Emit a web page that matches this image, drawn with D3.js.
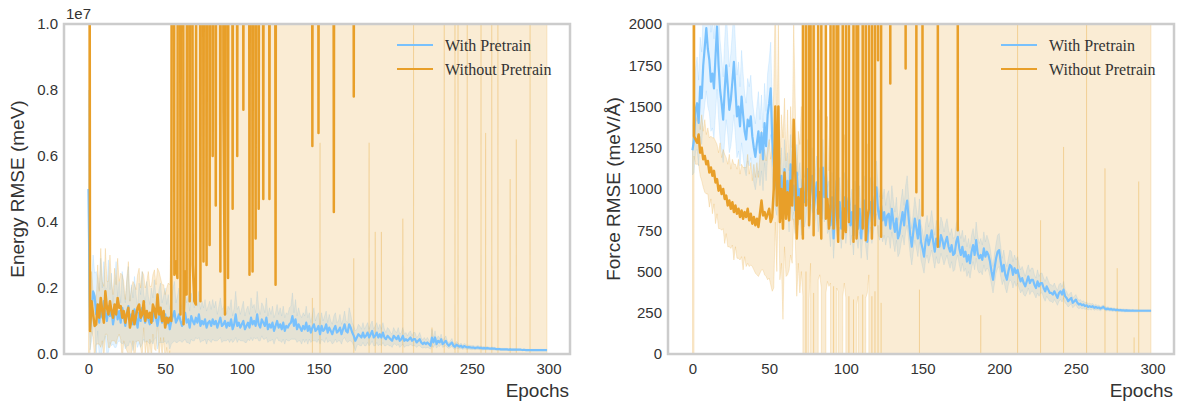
<!DOCTYPE html>
<html><head><meta charset="utf-8">
<script src="https://cdn.jsdelivr.net/npm/d3@7"></script>
<style>body{margin:0;background:#fff}svg{display:block}</style>
</head><body><svg id="c" width="1177" height="402"></svg>
<script>
// ---------------- DATA ----------------
const epochs = d3.range(0, 300);
const xTicks = [0, 50, 100, 150, 200, 250, 300];
const energyTicks = [0, 0.2e7, 0.4e7, 0.6e7, 0.8e7, 1.0e7];
const forceTicks = [0, 250, 500, 750, 1000, 1250, 1500, 1750, 2000];
const seriesNames = ["With Pretrain", "Without Pretrain"];

// energy arrays are in units of 1e4 meV
const ENERGY_UNIT = 1e4;
const EO = 5000;   // mean far above the axis (off chart)
const EW = 20000;  // std so large the band spans the whole axis
const FO = 1e5;    // force mean far above the axis
const FW = 3e5;    // force std spanning the whole axis

const eWithMean = [500,72,130,190,175,120,150,95,140,110,
160,125,100,145,115,135,90,120,150,105,
130,95,140,115,85,125,145,100,120,90,
135,110,80,125,100,140,115,95,130,105,
90,120,100,135,110,85,115,125,95,105,
120,90,110,75,100,115,130,95,105,120,
100,85,110,125,95,105,80,115,100,90,
110,95,120,85,100,90,105,80,95,100,
85,105,90,100,80,95,110,85,90,100,
80,95,85,105,75,90,120,85,95,80,
90,100,75,85,95,80,110,90,100,85,
120,90,80,105,95,85,110,75,90,80,
95,70,85,100,80,90,75,95,70,85,
80,90,95,115,85,105,75,90,80,70,
85,75,95,70,85,65,80,90,70,75,
85,60,85,70,75,90,65,80,70,60,
75,85,65,70,80,60,75,90,70,65,
90,80,65,55,40,50,60,55,50,65,
50,55,65,50,60,70,50,55,65,50,
60,50,65,50,45,55,50,45,40,55,
50,45,55,40,45,55,40,45,40,45,
50,40,45,45,35,40,45,35,30,35,
30,35,30,25,50,35,50,30,40,35,
45,30,35,40,30,25,30,35,25,22,
28,25,22,25,20,24,22,20,21,20,
19,20,18,19,20,18,19,17,18,17,
18,17,16,17,16,16,15,15,15,14,
14,14,14,14,13,14,13,13,13,13,
13,13,13,12,13,12,12,12,12,12,
12,12,12,12,12,12,12,12,12,12];

const eWithStd = [300,60,90,110,70,130,80,100,150,90,
120,70,100,140,80,110,60,100,130,70,
90,60,110,80,70,100,120,60,90,80,
100,70,60,90,80,110,70,60,90,70,
60,80,70,90,60,70,80,90,60,70,
80,60,70,60,70,80,90,60,70,80,
60,50,70,80,60,70,50,70,60,50,
60,50,70,50,60,50,60,50,50,60,
50,60,50,60,40,50,60,50,50,60,
40,50,50,60,40,50,70,50,50,40,
50,60,40,50,50,40,60,50,50,40,
70,50,40,50,50,40,60,40,50,40,
50,40,40,50,40,50,40,50,40,40,
40,50,50,70,40,60,40,50,40,40,
40,40,50,40,40,30,40,50,30,40,
40,30,40,30,40,40,30,40,30,30,
40,40,30,30,40,30,30,40,30,30,
50,40,30,30,30,25,30,30,25,30,
25,30,30,25,30,30,25,30,30,25,
30,25,30,25,20,25,25,20,20,25,
20,20,25,20,20,25,20,20,15,20,
20,15,20,20,15,15,20,15,12,15,
12,15,12,10,25,15,20,12,15,12,
15,10,12,15,10,8,10,12,8,8,
10,8,7,8,6,8,7,6,6,6,
6,6,5,5,6,5,5,5,5,4,
5,4,4,4,4,4,3,3,3,3,
3,3,3,3,3,3,3,3,3,3,
2,2,2,2,2,2,2,2,2,2,
2,2,2,2,2,2,2,2,2,2];

const eWithoutMean = [EO,70,160,120,85,90,150,110,170,130,
95,190,140,120,160,130,110,150,120,170,
140,145,110,130,95,120,140,80,100,130,
90,115,140,150,110,120,160,100,130,110,
125,95,150,135,110,180,120,140,100,130,
80,110,95,110,100,EO,240,280,230,EO,
120,EO,90,250,180,EO,160,EO,270,160,
150,EO,EO,160,EO,280,EO,270,EO,330,
EO,600,EO,450,EO,EO,250,EO,740,120,
EO,230,EO,EO,440,EO,EO,600,EO,EO,
EO,740,EO,EO,EO,240,EO,250,EO,350,
EO,440,EO,EO,470,EO,EO,EO,470,EO,
EO,EO,210,EO,EO,EO,EO,EO,EO,EO,
EO,EO,EO,EO,EO,EO,EO,EO,EO,EO,
EO,EO,EO,EO,EO,EO,630,EO,EO,EO,
670,EO,EO,EO,EO,EO,EO,EO,EO,EO,
430,EO,EO,EO,EO,EO,EO,EO,EO,EO,
EO,EO,EO,780,EO,EO,EO,EO,EO,EO,
EO,EO,EO,EO,EO,EO,EO,EO,EO,EO,
EO,EO,EO,EO,EO,EO,EO,EO,EO,EO,
EO,EO,EO,EO,EO,EO,EO,EO,EO,EO,
EO,EO,EO,EO,EO,EO,EO,EO,EO,EO,
EO,EO,EO,EO,EO,EO,EO,EO,EO,EO,
EO,EO,EO,EO,EO,EO,EO,EO,EO,EO,
EO,EO,EO,EO,EO,EO,EO,EO,EO,EO,
EO,EO,EO,EO,EO,EO,EO,EO,EO,EO,
EO,EO,EO,EO,EO,EO,EO,EO,EO,EO,
EO,EO,EO,EO,EO,EO,EO,EO,EO,EO,
EO,EO,EO,EO,EO,EO,EO,EO,EO,EO,
EO,EO,EO,EO,EO,EO,EO,EO,EO,EO];

const eWithoutStd = [EW,60,90,70,100,60,120,80,150,90,
110,130,80,100,140,90,70,110,90,120,
80,100,130,90,70,110,140,80,100,90,
120,80,100,110,90,130,80,100,90,140,
80,110,90,120,100,80,130,90,110,80,
100,90,120,100,300,EW,EW,EW,EW,EW,
EW,EW,EW,EW,EW,EW,EW,EW,EW,EW,
EW,EW,EW,EW,EW,EW,EW,EW,EW,EW,
EW,EW,EW,EW,EW,EW,EW,EW,EW,EW,
EW,EW,EW,EW,EW,EW,EW,EW,EW,EW,
EW,EW,EW,EW,EW,EW,EW,EW,EW,EW,
EW,EW,EW,EW,EW,EW,EW,EW,EW,EW,
EW,EW,EW,EW,EW,EW,EW,EW,EW,EW,
EW,EW,EW,EW,EW,EW,EW,EW,EW,EW,
EW,EW,EW,EW,EW,EW,460,EW,EW,EW,
EW,4360,EW,EW,EW,EW,EW,EW,EW,EW,
EW,EW,EW,EW,EW,EW,EW,EW,EW,EW,
EW,EW,EW,490,EW,EW,EW,EW,EW,EW,
EW,EW,EW,4360,EW,EW,EW,4630,EW,EW,
EW,4630,EW,EW,EW,EW,EW,EW,EW,EW,
EW,EW,EW,EW,EW,4590,EW,EW,EW,EW,
EW,EW,3900,EW,EW,EW,EW,EW,EW,EW,
EW,EW,EW,EW,4920,EW,EW,EW,EW,EW,
EW,EW,3900,EW,EW,EW,EW,EW,EW,3900,
EW,3900,EW,EW,EW,EW,EW,3900,EW,EW,
EW,EW,EW,EW,EW,EW,3900,EW,EW,4330,
EW,EW,EW,3900,EW,EW,EW,3900,EW,EW,
EW,EW,EW,EW,EW,4470,EW,EW,EW,4350,
EW,EW,EW,EW,EW,EW,EW,EW,3900,EW,
EW,EW,EW,EW,EW,EW,EW,EW,EW,EW];

const fWithMean = [1235,1300,1480,1520,1400,1620,1550,1750,1860,1975,
1850,1780,1650,1700,1610,1800,1985,1750,1600,1520,
1420,1600,1750,1620,1480,1540,1650,1770,1600,1440,
1500,1380,1560,1450,1350,1300,1420,1380,1440,1320,
1250,1195,1280,1350,1220,1340,1180,1400,1260,1450,
1520,1610,1300,1150,1050,1000,1180,950,1080,900,
1120,980,1050,880,1150,960,1020,870,1100,930,
1000,850,1060,920,980,1120,900,1000,1080,860,
950,1040,880,980,820,1130,950,1100,870,900,
780,950,700,880,1050,820,920,760,880,950,
800,900,950,780,860,720,900,820,760,880,
700,840,930,780,680,850,920,800,880,960,
1010,870,820,900,810,860,780,840,850,760,
880,800,740,820,700,730,800,860,780,880,
930,820,720,650,740,820,760,700,810,680,
640,590,680,720,660,700,750,680,620,700,
660,650,720,690,640,680,710,650,620,660,
600,610,680,710,640,600,650,590,620,560,
600,550,620,660,600,690,610,580,600,570,
640,590,620,600,560,500,450,520,580,620,
630,560,500,540,480,450,500,540,530,480,
520,490,510,470,440,460,430,410,440,470,
430,450,450,420,400,440,410,430,430,400,
380,410,390,370,370,360,380,360,340,370,
380,360,390,350,340,320,330,340,310,320,
330,310,300,305,295,300,290,295,285,290,
285,290,280,285,280,282,275,280,285,275,
272,275,270,272,268,270,266,268,265,266,
264,265,263,264,263,263,262,263,262,262,
262,262,262,262,262,262,262,262,262,262];

const fWithStd = [150,200,250,280,260,300,280,320,350,380,
350,320,300,330,300,340,380,320,300,280,
260,300,330,290,260,280,300,320,280,250,
270,240,280,250,230,220,250,240,250,220,
210,200,220,240,200,230,190,240,210,250,
260,280,220,190,170,160,190,150,170,140,
180,150,170,140,180,150,160,140,170,150,
160,130,170,150,160,180,140,160,170,130,
150,160,140,150,130,170,150,170,140,150,
130,150,120,140,160,130,150,120,140,150,
130,140,150,120,140,120,150,130,120,140,
120,130,150,130,110,130,150,130,140,150,
160,140,130,150,130,140,120,130,140,120,
140,130,120,130,110,120,130,140,120,140,
150,130,120,110,120,130,120,110,130,110,
110,100,110,120,110,110,120,110,100,110,
110,100,110,110,100,110,110,100,100,100,
100,100,110,110,100,100,100,90,100,90,
100,90,100,100,90,110,100,90,100,90,
100,90,100,90,90,80,80,90,90,100,
100,90,80,90,80,80,80,90,90,80,
80,80,80,70,70,70,70,60,70,70,
70,70,70,60,60,70,60,60,60,60,
60,60,55,50,50,50,50,45,45,50,
50,45,50,40,40,35,35,35,30,30,
30,28,25,25,22,22,20,20,18,18,
18,16,15,15,14,14,13,12,12,12,
11,11,10,10,10,9,9,9,8,8,
8,8,8,7,7,7,7,7,7,7,
7,6,6,6,6,6,6,6,6,6];

const fWithoutMean = [FO,1320,1300,1280,1330,1220,1250,1180,1200,1150,
1170,1100,1130,1080,1110,1040,1060,990,1020,970,
1000,940,960,900,930,880,920,860,900,850,
880,830,870,820,860,830,880,810,850,790,
830,780,820,770,850,930,840,860,820,850,
880,800,830,1000,1500,900,1500,800,1000,760,
1100,820,980,810,1050,900,1420,1115,700,950,
820,1000,700,FO,900,FO,780,1050,FO,720,
FO,FO,850,980,700,FO,FO,820,940,760,
880,FO,760,FO,900,680,FO,FO,700,880,
740,FO,800,FO,FO,680,FO,700,850,FO,
FO,760,FO,690,820,880,FO,700,FO,780,
FO,1780,FO,710,FO,FO,FO,FO,FO,1640,
FO,FO,FO,FO,FO,FO,FO,FO,FO,1730,
FO,FO,FO,FO,FO,FO,980,FO,FO,FO,
840,FO,FO,FO,FO,FO,FO,FO,FO,FO,
650,FO,FO,FO,FO,FO,FO,FO,FO,FO,
FO,FO,FO,750,FO,FO,FO,FO,FO,FO,
FO,FO,FO,FO,FO,FO,FO,FO,FO,FO,
FO,FO,FO,FO,FO,FO,FO,FO,FO,FO,
FO,FO,FO,FO,FO,FO,FO,FO,FO,FO,
FO,FO,FO,FO,FO,FO,FO,FO,FO,FO,
FO,FO,FO,FO,FO,FO,FO,FO,FO,FO,
FO,FO,FO,FO,FO,FO,FO,FO,FO,FO,
FO,FO,FO,FO,FO,FO,FO,FO,FO,FO,
FO,FO,FO,FO,FO,FO,FO,FO,FO,FO,
FO,FO,FO,FO,FO,FO,FO,FO,FO,FO,
FO,FO,FO,FO,FO,FO,FO,FO,FO,FO,
FO,FO,FO,FO,FO,FO,FO,FO,FO,FO,
FO,FO,FO,FO,FO,FO,FO,FO,FO,FO];

const fWithoutStd = [FW,120,150,130,180,140,200,170,220,180,
200,210,190,230,200,250,210,230,260,220,
240,270,230,250,280,240,260,290,250,270,
300,260,280,310,270,300,330,280,310,260,
320,290,340,300,360,420,330,380,350,400,
420,380,450,600,700,400,500,350,450,550,
450,350,500,300,450,350,600,400,350,400,
450,500,350,FW,400,FW,450,500,FW,350,
FW,FW,400,500,300,FW,FW,450,500,350,
450,FW,350,FW,500,300,FW,FW,350,450,
400,FW,450,FW,FW,350,FW,400,500,FW,
FW,400,FW,350,450,400,FW,350,FW,400,
FW,1000,FW,400,FW,FW,FW,FW,FW,2500,
FW,FW,FW,FW,FW,FW,FW,FW,FW,2500,
FW,FW,FW,FW,FW,FW,2500,FW,99610,FW,
2500,FW,FW,FW,FW,FW,FW,FW,FW,FW,
2500,FW,FW,FW,FW,FW,FW,FW,FW,FW,
FW,FW,FW,2500,FW,FW,FW,FW,FW,FW,
FW,FW,FW,FW,FW,FW,FW,FW,99765,FW,
FW,FW,FW,FW,FW,FW,FW,FW,FW,FW,
FW,FW,FW,FW,FW,FW,FW,FW,FW,FW,
FW,FW,97900,FW,FW,FW,FW,FW,FW,FW,
FW,FW,FW,FW,FW,FW,FW,99190,FW,FW,
FW,FW,FW,FW,FW,FW,FW,FW,FW,FW,
FW,FW,98745,FW,FW,FW,FW,FW,FW,FW,
FW,FW,FW,FW,FW,FW,FW,97900,FW,FW,
FW,FW,FW,FW,FW,FW,FW,FW,FW,98875,
FW,FW,FW,FW,FW,FW,FW,99480,FW,FW,
FW,FW,FW,FW,FW,FW,FW,FW,99900,FW,
FW,98955,FW,FW,FW,FW,FW,FW,FW,FW];

// ---------------- DRAWING ----------------
const BLUE = "#78c1fd", ORANGE = "#e89f29";
const SANS = "'Liberation Sans', Arial, sans-serif";
const SERIF = "'Liberation Serif', 'Times New Roman', serif";
const TEXT = "#333333";
const svg = d3.select("#c");

function panel(cfg) {
  const L = cfg.left, R = cfg.left + 506, T = 24, B = 354;
  const x = d3.scaleLinear().domain([0, 300]).range([L + 24.5, L + 484.5]);
  const y = d3.scaleLinear().domain([0, cfg.ymax]).range([B, T]);
  const g = svg.append("g");
  const clipId = "clip" + cfg.left;
  svg.append("clipPath").attr("id", clipId).append("rect")
    .attr("x", L).attr("y", T).attr("width", R - L).attr("height", B - T);
  const plot = g.append("g").attr("clip-path", `url(#${clipId})`);

  const series = [
    {mean: cfg.withMean, std: cfg.withStd, color: BLUE, width: 2.2},
    {mean: cfg.withoutMean, std: cfg.withoutStd, color: ORANGE, width: 2.5}
  ];
  const area = s => d3.area()
    .x(i => x(epochs[i]))
    .y0(i => y((s.mean[i] - s.std[i]) * cfg.unit))
    .y1(i => y((s.mean[i] + s.std[i]) * cfg.unit));
  const line = s => d3.line()
    .x(i => x(epochs[i]))
    .y(i => y(s.mean[i] * cfg.unit));
  const idx = d3.range(epochs.length);

  series.forEach(s => {
    plot.append("path").attr("d", area(s)(idx))
      .attr("fill", s.color).attr("fill-opacity", 0.2)
      .attr("stroke", s.color).attr("stroke-opacity", 0.2).attr("stroke-width", 1);
  });
  series.forEach(s => {
    plot.append("path").attr("d", line(s)(idx))
      .attr("fill", "none").attr("stroke", s.color).attr("stroke-width", s.width)
      .attr("stroke-linejoin", "round");
  });

  // axes
  const ax = g.append("g").attr("transform", `translate(0,${B})`)
    .call(d3.axisBottom(x).tickValues(xTicks).tickSize(0).tickPadding(9));
  const ay = g.append("g").attr("transform", `translate(${L},0)`)
    .call(d3.axisLeft(y).tickValues(cfg.ticks).tickSize(0).tickPadding(6).tickFormat(cfg.fmt));
  [ax, ay].forEach(a => {
    a.select(".domain").remove();
    a.selectAll("text").attr("font-family", SANS).attr("font-size", 15).attr("fill", TEXT);
  });

  // frame
  g.append("rect").attr("x", L).attr("y", T).attr("width", R - L).attr("height", B - T)
    .attr("fill", "none").attr("stroke", "#cccccc").attr("stroke-width", 2.5);

  // labels
  g.append("text").attr("x", R - 1).attr("y", 397).attr("text-anchor", "end")
    .attr("font-family", SANS).attr("font-size", 19).attr("fill", TEXT).text("Epochs");
  g.append("text").attr("transform", `translate(${L - cfg.ylabelGap},189) rotate(-90)`)
    .attr("text-anchor", "middle")
    .attr("font-family", SANS).attr("font-size", 19).attr("fill", TEXT).text(cfg.ylabel);
  if (cfg.offset) {
    g.append("text").attr("x", L + 2).attr("y", 19)
      .attr("font-family", SANS).attr("font-size", 15).attr("fill", TEXT).text(cfg.offset);
  }

  // legend
  const lg = g.append("g");
  seriesNames.forEach((name, k) => {
    const yy = 45 + k * 24;
    lg.append("line").attr("x1", L + 333).attr("x2", L + 369).attr("y1", yy).attr("y2", yy)
      .attr("stroke", series[k].color).attr("stroke-width", 2.2);
    lg.append("text").attr("x", L + 381).attr("y", yy).attr("dy", "0.35em")
      .attr("font-family", SERIF).attr("font-size", 16).attr("fill", TEXT).text(name);
  });
}

panel({
  left: 64, ymax: 1e7, unit: ENERGY_UNIT, ticks: energyTicks, ylabelGap: 40,
  fmt: d => (d / 1e7).toFixed(1), ylabel: "Energy RMSE (meV)", offset: "1e7",
  withMean: eWithMean, withStd: eWithStd, withoutMean: eWithoutMean, withoutStd: eWithoutStd
});
panel({
  left: 668, ymax: 2000, unit: 1, ticks: forceTicks, ylabelGap: 48,
  fmt: d => String(d), ylabel: "Force RMSE (meV/Å)", offset: null,
  withMean: fWithMean, withStd: fWithStd, withoutMean: fWithoutMean, withoutStd: fWithoutStd
});
</script></body></html>
